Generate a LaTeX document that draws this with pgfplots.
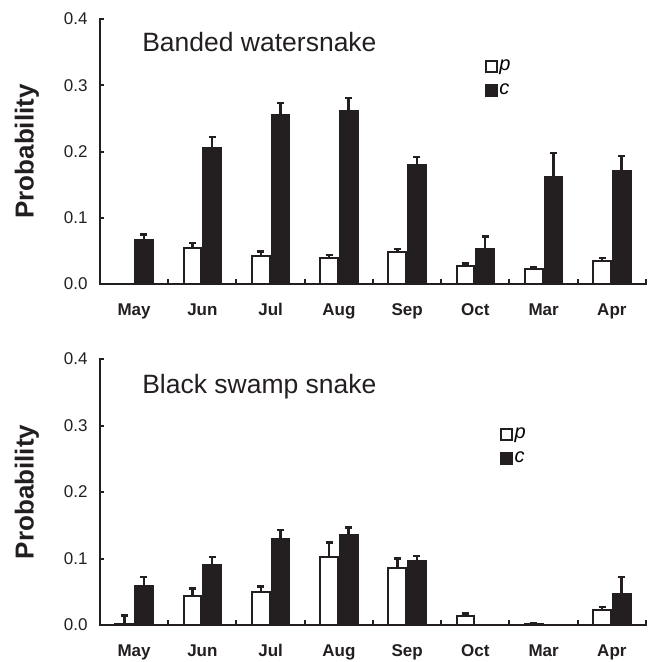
\documentclass[border=0pt]{standalone}
\usepackage{fontspec}
\setmainfont{Liberation Sans}
\usepackage{pgfplots}
\pgfplotsset{compat=1.18}
\usepackage{pgfplotstable}
\definecolor{ink}{RGB}{35,31,32}

\pgfplotstableread{
x p perr c cerr
0 nan 0 0.066 0.009
1 0.054 0.008 0.205 0.017
2 0.043 0.006 0.255 0.018
3 0.040 0.004 0.261 0.020
4 0.048 0.005 0.179 0.013
5 0.027 0.004 0.053 0.019
6 0.022 0.004 0.161 0.037
7 0.034 0.005 0.170 0.023
}\topdata

\pgfplotstableread{
x p perr c cerr
0 0.002 0.012 0.059 0.013
1 0.044 0.011 0.090 0.012
2 0.049 0.009 0.129 0.014
3 0.103 0.021 0.136 0.011
4 0.086 0.014 0.097 0.007
5 0.014 0.003 nan 0
6 0.002 0.001 nan 0
7 0.022 0.005 0.046 0.026
}\botdata

\pgfplotsset{
  snakeaxis/.style={
    width=546pt, height=265pt, scale only axis,
    ybar=2pt, bar width=0.26,
    xmin=-0.5, xmax=7.5, ymin=0, ymax=0.4,
    axis lines*=left,
    axis line style={line width=2.5pt, ink, line cap=rect},
    tick align=inside,
    xtick={0,...,7},
    xticklabels={May,Jun,Jul,Aug,Sep,Oct,Mar,Apr},
    major x tick style={draw=none},
    minor xtick={0.5,1.5,...,7.5},
    minor tick length=5pt,
    minor tick style={line width=2pt, ink},
    ytick={0,0.1,0.2,0.3,0.4},
    yticklabels={0.0,0.1,0.2,0.3,0.4},
    major tick length=4pt,
    major y tick style={line width=2pt, ink},
    xticklabel style={font=\fontsize{17}{19}\selectfont\bfseries, text=ink, yshift=-16pt},
    yticklabel style={font=\fontsize{17}{19}\selectfont, text=ink, xshift=-9pt},
    ylabel={Probability},
    ylabel style={at={(axis description cs:-0.134,0.5)}, anchor=center, font=\fontsize{26}{28}\selectfont\bfseries, text=ink},
    legend cell align=left,
    legend image code/.code={\draw[#1, line width=1.8pt] (0pt,-5.5pt) rectangle (11pt,5.5pt);},
    legend style={draw=none, fill=none, anchor=north west, font=\fontsize{20}{22}\selectfont\itshape, inner sep=0pt,
      nodes={inner sep=1.5pt, text height=11pt, text depth=4pt}, /tikz/row sep=6pt},
  },
  pbar/.style={fill=white, draw=ink, line width=2pt,
    error bars/.cd, y dir=plus, y explicit,
    error bar style={line width=2.5pt, ink},
    error mark options={ink, line width=2.5pt, mark size=3.5pt, rotate=90}},
  cbar/.style={fill=ink, draw=ink, line width=2pt,
    error bars/.cd, y dir=plus, y explicit,
    error bar style={line width=2.5pt, ink},
    error mark options={ink, line width=2.5pt, mark size=3.5pt, rotate=90}},
}

\begin{document}
\begin{tikzpicture}
\useasboundingbox (-100pt,-378pt) rectangle (555pt,284pt);

\begin{axis}[snakeaxis, at={(0pt,0pt)}, anchor=south west,
  legend style={at={(0.705,0.855)}}]
\addplot[pbar] table[x=x, y=p, y error=perr]{\topdata};
\addlegendentry{p}
\addplot[cbar] table[x=x, y=c, y error=cerr]{\topdata};
\addlegendentry{c}
\node[anchor=west, font=\fontsize{26.5}{28}\selectfont, text=ink] at (rel axis cs:0.071,0.913) {Banded watersnake};
\end{axis}

\begin{axis}[snakeaxis, at={(0pt,-341pt)}, anchor=south west, height=266pt,
  legend style={at={(0.733,0.75)}}]
\addplot[pbar] table[x=x, y=p, y error=perr]{\botdata};
\addlegendentry{p}
\addplot[cbar] table[x=x, y=c, y error=cerr]{\botdata};
\addlegendentry{c}
\node[anchor=west, font=\fontsize{26.5}{28}\selectfont, text=ink] at (rel axis cs:0.071,0.895) {Black swamp snake};
\end{axis}
\end{tikzpicture}
\end{document}
